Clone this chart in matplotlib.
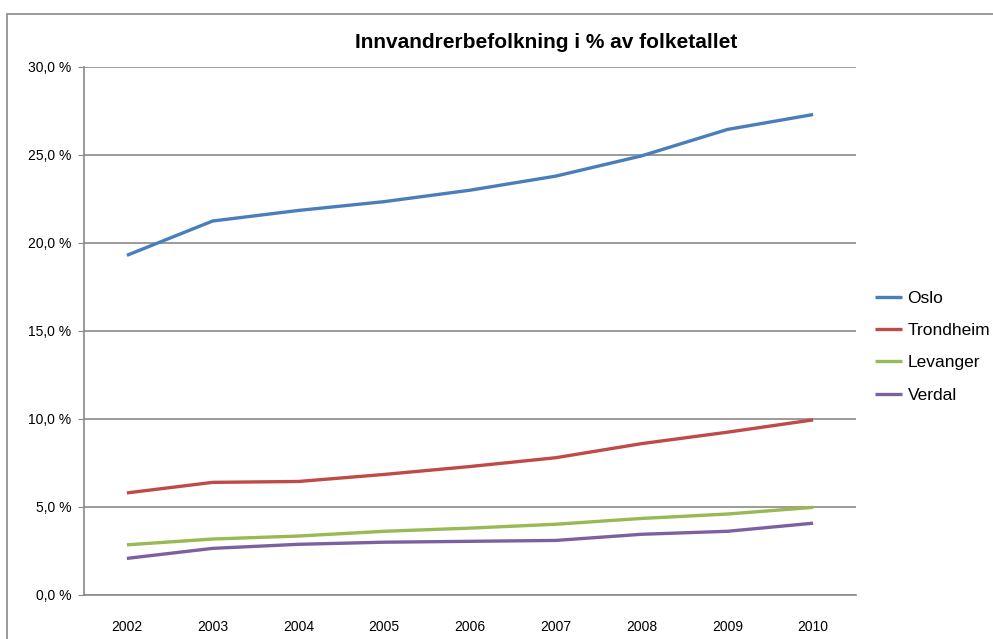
import matplotlib
matplotlib.use("Agg")
import matplotlib.pyplot as plt
from matplotlib.patches import Rectangle

years = ["2002", "2003", "2004", "2005", "2006", "2007", "2008", "2009", "2010"]
oslo = [19.3, 21.25, 21.85, 22.35, 23.0, 23.8, 24.95, 26.45, 27.3]
trondheim = [5.8, 6.4, 6.45, 6.85, 7.3, 7.8, 8.6, 9.25, 9.95]
levanger = [2.85, 3.18, 3.35, 3.62, 3.8, 4.02, 4.35, 4.6, 4.98]
verdal = [2.08, 2.65, 2.88, 3.0, 3.05, 3.1, 3.45, 3.62, 4.08]

series = [("Oslo", oslo, "#4A7EBB"),
          ("Trondheim", trondheim, "#BE4B48"),
          ("Levanger", levanger, "#98B954"),
          ("Verdal", verdal, "#7D60A0")]

plt.rcParams['font.family'] = ['Liberation Sans', 'DejaVu Sans']

fig = plt.figure(figsize=(9.93, 6.39), dpi=100)
fig.patches.append(Rectangle((7 / 993, -0.1), 1.2, 1 - 14 / 639 + 0.1, transform=fig.transFigure,
                             fill=False, edgecolor="#8a8a8a", linewidth=1.2))
ax = fig.add_axes([84 / 993, 44 / 639, 772 / 993, 528 / 639])

x = range(len(years))
for name, vals, color in series:
    ax.plot(x, vals, color=color, linewidth=2.4, label=name, solid_capstyle="butt")

ax.set_xlim(-0.5, len(years) - 0.5)
ax.set_ylim(0, 30)
ax.set_yticks([0, 5, 10, 15, 20, 25, 30])
ax.set_yticklabels([f"{v:.1f} %".replace(".", ",") for v in [0, 5, 10, 15, 20, 25, 30]], fontsize=10)
ax.set_xticks(list(x))
ax.set_xticklabels(years, fontsize=10)
ax.tick_params(axis="x", length=0, pad=18)
ax.tick_params(axis="y", length=4, color="#8a8a8a", pad=5)
ax.yaxis.grid(True, color="#8a8a8a", linewidth=1.2)
ax.set_axisbelow(True)
for s in ["top", "right"]:
    ax.spines[s].set_visible(False)
for s in ["left", "bottom"]:
    ax.spines[s].set_color("#8a8a8a")
    ax.spines[s].set_linewidth(1.2)

fig.text(0.5505, 0.934, "Innvandrerbefolkning i % av folketallet", ha="center", va="center",
         fontsize=15, fontweight="bold")

ax.legend(loc="center left", bbox_to_anchor=(1.015, 0.47), frameon=False, fontsize=12.5,
          handlelength=1.6, handletextpad=0.3, labelspacing=0.98, borderaxespad=0)

fig.savefig("out.png", dpi=100)
